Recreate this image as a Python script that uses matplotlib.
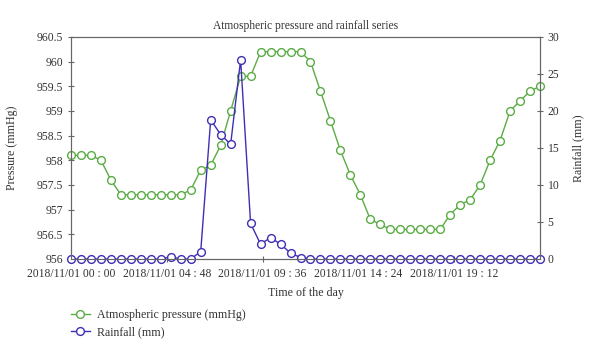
import matplotlib.pyplot as plt
import matplotlib.dates as mdates
import pandas as pd

# half-hourly readings over 2018/11/01
times = pd.date_range('2018-11-01 00:00', periods=48, freq='30min')

pressure = [958.1, 958.1, 958.1, 958.0, 957.6, 957.3, 957.3, 957.3, 957.3, 957.3,
            957.3, 957.3, 957.4, 957.8, 957.9, 958.3, 959.0, 959.7, 959.7, 960.2,
            960.2, 960.2, 960.2, 960.2, 960.0, 959.4, 958.8, 958.2, 957.7, 957.3,
            956.8, 956.7, 956.6, 956.6, 956.6, 956.6, 956.6, 956.6, 956.9, 957.1,
            957.2, 957.5, 958.0, 958.4, 959.0, 959.2, 959.4, 959.5]

rainfall = [0, 0, 0, 0, 0, 0, 0, 0, 0, 0,
            0.3, 0, 0, 1.0, 18.8, 16.8, 15.5, 26.9, 4.8, 2.0,
            2.9, 2.0, 0.8, 0.2, 0, 0, 0, 0, 0, 0,
            0, 0, 0, 0, 0, 0, 0, 0, 0, 0,
            0, 0, 0, 0, 0, 0, 0, 0]

tick_times = pd.date_range('2018-11-01 00:00', periods=5, freq='288min')
pressure_ticks = [956, 956.5, 957, 957.5, 958, 958.5, 959, 959.5, 960, 960.5]
rain_ticks = [0, 5, 10, 15, 20, 25, 30]

plt.rcParams['font.family'] = ['Liberation Serif', 'DejaVu Serif']
text_color = '#333333'
spine_color = '#666666'
green = '#5aac44'
blue = '#3f2fb3'

fig = plt.figure(figsize=(6, 3.56), dpi=100)
ax = fig.add_axes([0.1183, 0.2725, 0.7817, 0.624])
ax2 = ax.twinx()

l1, = ax.plot(times, pressure, color=green, lw=1, marker='o', ms=5.6,
              mfc='white', mec=green, mew=1, clip_on=False,
              label='Atmospheric pressure (mmHg)')
l2, = ax2.plot(times, rainfall, color=blue, lw=1, marker='o', ms=5.6,
               mfc='white', mec=blue, mew=1, clip_on=False,
               label='Rainfall (mm)')

ax.set_xlim(times[0], times[-1])
ax.set_ylim(956, 960.5)
ax2.set_ylim(0, 30)
ax.set_yticks(pressure_ticks)
ax.set_yticklabels(['%g' % v for v in pressure_ticks])
ax2.set_yticks(rain_ticks)
ax.set_xticks(tick_times)
ax.xaxis.set_major_formatter(mdates.DateFormatter('%Y/%m/%d %H : %M'))

for a in (ax, ax2):
    for s in a.spines.values():
        s.set_color(spine_color)
        s.set_linewidth(0.8)
    a.tick_params(colors=spine_color, labelcolor=text_color, labelsize=8.4,
                  direction='inout', length=5, width=0.8, pad=3)
ax.tick_params(axis='x', pad=4)

ax.set_title('Atmospheric pressure and rainfall series', fontsize=8.3,
             color=text_color, pad=6)
ax.set_xlabel('Time of the day', fontsize=8.6, color=text_color, labelpad=5)
ax.set_ylabel('Pressure (mmHg)', fontsize=8.6, color=text_color, labelpad=14)
ax2.set_ylabel('Rainfall (mm)', fontsize=8.6, color=text_color, labelpad=9)

fig.legend(handles=[l1, l2], loc='upper left', bbox_to_anchor=(0.11, 0.145),
           frameon=False, fontsize=8.6, handlelength=1.6, handletextpad=0.6,
           labelspacing=0.45, borderaxespad=0, labelcolor=text_color)

fig.savefig('out.png', dpi=100)
